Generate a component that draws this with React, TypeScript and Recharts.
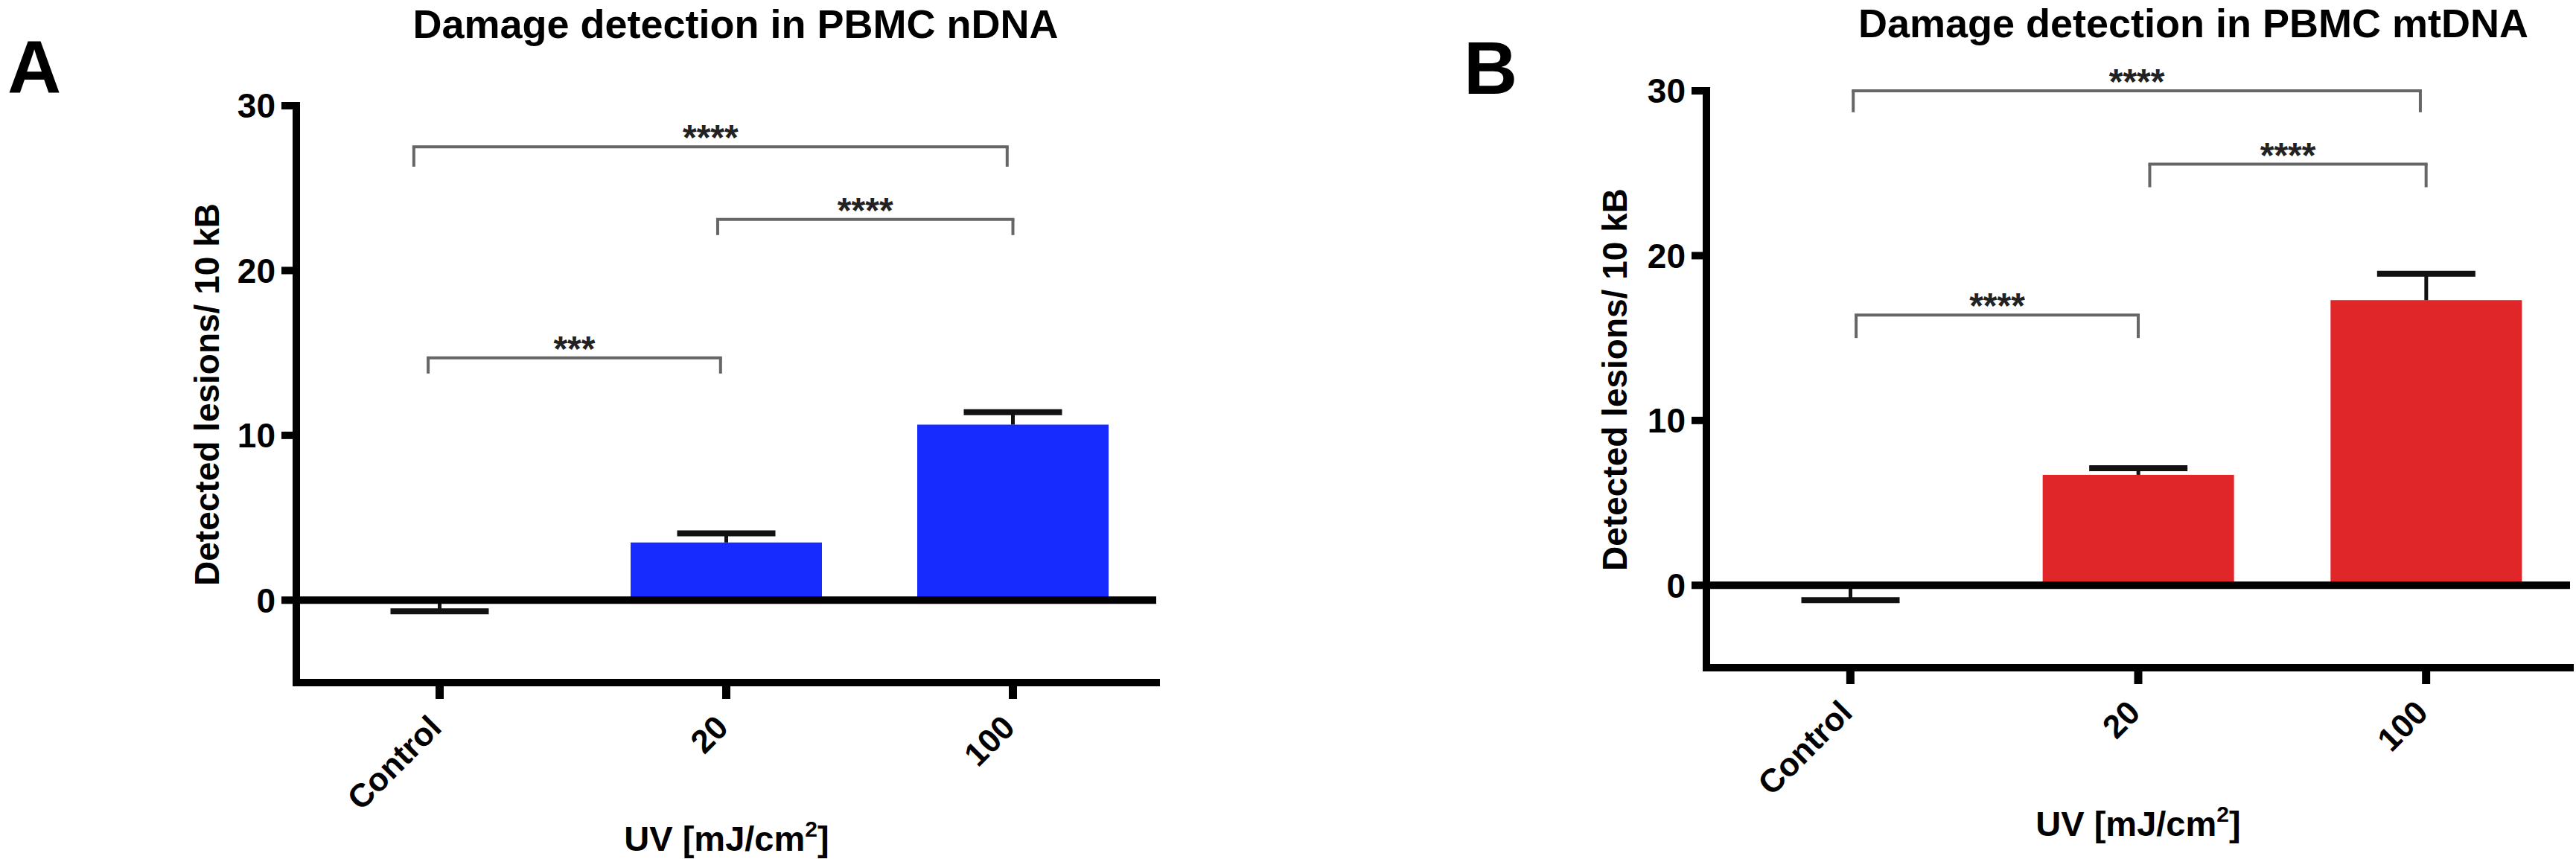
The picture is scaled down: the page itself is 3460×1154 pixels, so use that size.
import React from 'react';
import { BarChart, Bar, XAxis, YAxis, ReferenceLine } from 'recharts';

const GROUPS = ['Control', '20', '100'];
const Y_TICKS = [0, 10, 20, 30];

const NDNA_MEAN = [-0.2, 3.5, 10.65];
const NDNA_SEM = [0.48, 0.55, 0.75];
const MTDNA_MEAN = [-0.2, 6.7, 17.3];
const MTDNA_SEM = [0.7, 0.4, 1.6];

// brackets: group positions (0 = Control, 1 = 20, 2 = 100), height and leg length in y units
const NDNA_BRACKETS = [
  { from: -0.09, to: 1.98, y: 27.5, drop: 1.2, label: '****' },
  { from: 0.97, to: 2.0, y: 23.1, drop: 0.95, label: '****' },
  { from: -0.04, to: 0.98, y: 14.7, drop: 0.95, label: '***' },
];
const MTDNA_BRACKETS = [
  { from: 0.01, to: 1.98, y: 30.0, drop: 1.3, label: '****' },
  { from: 1.04, to: 2.0, y: 25.55, drop: 1.4, label: '****' },
  { from: 0.02, to: 1.0, y: 16.4, drop: 1.4, label: '****' },
];

const FONT = "'Liberation Sans', Arial, Helvetica, sans-serif";

function BarWithError(props: any) {
  const { x, y, width, height, fill, payload } = props;
  const v = payload.mean;
  const e = payload.sem;
  const top = Math.min(y, y + height);
  const bottom = Math.max(y, y + height);
  const ppu = Math.abs(height) / Math.abs(v);
  const end = v >= 0 ? top : bottom;
  const tip = v >= 0 ? end - e * ppu : end + e * ppu;
  const cx = x + width / 2;
  return (
    <g>
      <rect x={x} y={top} width={width} height={bottom - top} fill={fill} />
      <line x1={cx} x2={cx} y1={end} y2={tip} stroke="#111" strokeWidth={5} />
      <line x1={cx - 66} x2={cx + 66} y1={tip} y2={tip} stroke="#111" strokeWidth={8} />
    </g>
  );
}

function XTick(props: any) {
  const { x, y, payload } = props;
  const tx = x + 5;
  const ty = y + 39;
  return (
    <text
      x={tx}
      y={ty}
      transform={`rotate(-45, ${tx}, ${ty})`}
      textAnchor="end"
      fontSize={44}
      fontWeight={700}
      fontFamily={FONT}
      fill="#000"
    >
      {GROUPS[payload.value]}
    </text>
  );
}

function Stars(props: any) {
  const { viewBox, text } = props;
  if (!viewBox) return null;
  const cx = viewBox.x + viewBox.width / 2;
  return (
    <text x={cx} y={viewBox.y + 4} textAnchor="middle" fontSize={48} fontWeight={700} fontFamily={FONT} fill="#222">
      {text}
    </text>
  );
}

type Bracket = { from: number; to: number; y: number; drop: number; label: string };

function Panel({
  means,
  sems,
  brackets,
  color,
  margin,
}: {
  means: number[];
  sems: number[];
  brackets: Bracket[];
  color: string;
  margin: { top: number; right: number; bottom: number; left: number };
}) {
  const data = GROUPS.map((g, i) => ({ x: i, name: g, mean: means[i], sem: sems[i] }));
  return (
    <BarChart width={1730} height={1154} data={data} margin={margin}>
      <XAxis
        dataKey="x"
        type="number"
        domain={[-0.5, 2.5]}
        ticks={[0, 1, 2]}
        allowDataOverflow
        height={30}
        axisLine={{ stroke: '#000', strokeWidth: 10, strokeLinecap: 'square' }}
        tickLine={{ stroke: '#000', strokeWidth: 11 }}
        tickSize={22}
        tick={<XTick />}
        interval={0}
      />
      <YAxis
        domain={[-5, 30]}
        ticks={Y_TICKS}
        allowDataOverflow
        width={120}
        axisLine={{ stroke: '#000', strokeWidth: 10, strokeLinecap: 'square' }}
        tickLine={{ stroke: '#000', strokeWidth: 10 }}
        tickSize={20}
        tickMargin={8}
        tick={{ fontSize: 46, fontWeight: 700, fill: '#000', fontFamily: FONT }}
      />
      <Bar dataKey="mean" fill={color} barSize={257} shape={<BarWithError />} isAnimationActive={false} />
      <ReferenceLine y={0} stroke="#000" strokeWidth={10} />
      {brackets.map((b, i) => (
        <ReferenceLine
          key={`h${i}`}
          segment={[
            { x: b.from, y: b.y },
            { x: b.to, y: b.y },
          ]}
          stroke="#666"
          strokeWidth={4}
          strokeLinecap="square"
          ifOverflow="visible"
          label={(p: any) => <Stars {...p} text={b.label} />}
        />
      ))}
      {brackets.map((b, i) => (
        <ReferenceLine
          key={`l${i}`}
          segment={[
            { x: b.from, y: b.y },
            { x: b.from, y: b.y - b.drop },
          ]}
          stroke="#666"
          strokeWidth={4}
          ifOverflow="visible"
        />
      ))}
      {brackets.map((b, i) => (
        <ReferenceLine
          key={`r${i}`}
          segment={[
            { x: b.to, y: b.y },
            { x: b.to, y: b.y - b.drop },
          ]}
          stroke="#666"
          strokeWidth={4}
          ifOverflow="visible"
        />
      ))}
    </BarChart>
  );
}

function XLabel({ x, y }: { x: number; y: number }) {
  return (
    <text x={x} y={y} textAnchor="middle" fontSize={47} fontWeight={700} fontFamily={FONT} fill="#000">
      UV [mJ/cm
      <tspan fontSize={30} dy={-19}>
        2
      </tspan>
      <tspan fontSize={47} dy={19}>
        ]
      </tspan>
    </text>
  );
}

function YLabel({ x, y }: { x: number; y: number }) {
  return (
    <text
      x={x}
      y={y}
      transform={`rotate(-90, ${x}, ${y})`}
      textAnchor="middle"
      dy="0.36em"
      fontSize={46}
      fontWeight={700}
      fontFamily={FONT}
      fill="#000"
    >
      Detected lesions/ 10 kB
    </text>
  );
}

export default function App() {
  return (
    <div style={{ position: 'absolute', left: 0, top: 0, width: 3460, height: 1154, background: '#fff' }}>
      <svg width={3460} height={1154} style={{ position: 'absolute', left: 0, top: 0 }}>
        <text x={10} y={125} fontSize={100} fontWeight={700} fontFamily={FONT} fill="#000">
          A
        </text>
        <text x={1966} y={126} fontSize={100} fontWeight={700} fontFamily={FONT} fill="#000">
          B
        </text>
        <text x={988} y={51} textAnchor="middle" fontSize={54} fontWeight={700} fontFamily={FONT} fill="#000">
          Damage detection in PBMC nDNA
        </text>
        <text x={2946} y={50} textAnchor="middle" fontSize={54} fontWeight={700} fontFamily={FONT} fill="#000">
          Damage detection in PBMC mtDNA
        </text>
        <YLabel x={277} y={530} />
        <YLabel x={2168} y={510} />
        <XLabel x={976} y={1143} />
        <XLabel x={2872} y={1123} />
      </svg>
      <div style={{ position: 'absolute', left: 0, top: 0 }}>
        <Panel
          means={NDNA_MEAN}
          sems={NDNA_SEM}
          brackets={NDNA_BRACKETS}
          color="#172BFF"
          margin={{ top: 142, right: 177, bottom: 207, left: 278 }}
        />
      </div>
      <div style={{ position: 'absolute', left: 1730, top: 0 }}>
        <Panel
          means={MTDNA_MEAN}
          sems={MTDNA_SEM}
          brackets={MTDNA_BRACKETS}
          color="#E12629"
          margin={{ top: 122, right: 8, bottom: 227, left: 442 }}
        />
      </div>
    </div>
  );
}
